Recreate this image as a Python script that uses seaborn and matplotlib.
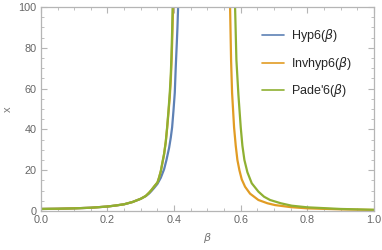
import matplotlib
matplotlib.use("Agg")
import matplotlib.pyplot as plt
import seaborn as sns
from matplotlib.ticker import MultipleLocator

# values, one list pair per branch
hyp_left_beta = [0.0, 0.05, 0.1, 0.15, 0.2, 0.225, 0.25, 0.275, 0.3, 0.315, 0.325, 0.332,
                 0.34, 0.35, 0.36, 0.37, 0.377, 0.385, 0.39, 0.394, 0.398, 0.402,
                 0.405, 0.408, 0.41, 0.412, 0.414]
hyp_left_x = [1.0, 1.1, 1.3, 1.6, 2.2, 2.7, 3.3, 4.4, 6.0, 7.3, 8.6, 9.8,
              11.3, 13.3, 16.3, 20.5, 25.0, 31.0, 36.0, 41.0, 49.0, 58.0,
              71.0, 82.0, 90.0, 100.0, 115.0]

inv_left_beta = [0.0, 0.05, 0.1, 0.15, 0.2, 0.225, 0.25, 0.275, 0.3, 0.315, 0.325, 0.332,
                 0.34, 0.35, 0.355, 0.36, 0.365, 0.37, 0.375, 0.379, 0.383, 0.387,
                 0.39, 0.392, 0.394, 0.396, 0.397, 0.399]
inv_left_x = [1.0, 1.1, 1.3, 1.6, 2.2, 2.7, 3.3, 4.4, 6.0, 7.4, 9.0, 10.3,
              12.0, 14.0, 16.5, 19.5, 23.5, 28.0, 34.0, 40.5, 48.0, 56.0,
              64.0, 72.0, 82.0, 94.0, 100.0, 120.0]
inv_right_beta = [0.566, 0.568, 0.571, 0.574, 0.58, 0.585, 0.59, 0.596, 0.603, 0.613,
                  0.628, 0.653, 0.68, 0.703, 0.75, 0.8, 0.9, 1.0]
inv_right_x = [115.0, 100.0, 74.0, 58.0, 41.0, 32.0, 25.0, 20.0, 15.5, 11.9,
               8.5, 5.4, 3.8, 2.9, 1.9, 1.3, 0.8, 0.5]

pade_left_beta = [0.0, 0.05, 0.1, 0.15, 0.2, 0.225, 0.25, 0.275, 0.3, 0.315, 0.325, 0.332,
                  0.34, 0.35, 0.355, 0.36, 0.365, 0.37, 0.375, 0.379, 0.383, 0.387,
                  0.39, 0.392, 0.394, 0.395, 0.396, 0.398]
pade_left_x = [1.0, 1.1, 1.3, 1.6, 2.2, 2.7, 3.3, 4.4, 6.0, 7.4, 9.0, 10.3,
               12.0, 14.0, 16.5, 19.5, 24.0, 28.0, 34.0, 41.0, 49.0, 58.0,
               67.0, 76.0, 88.0, 96.0, 104.0, 125.0]
pade_right_beta = [0.581, 0.583, 0.587, 0.593, 0.6, 0.605, 0.611, 0.62, 0.633, 0.653,
                   0.67, 0.688, 0.72, 0.753, 0.8, 0.9, 1.0]
pade_right_x = [115.0, 100.0, 74.0, 57.0, 41.0, 32.0, 25.0, 19.0, 13.6, 9.5,
                7.0, 5.4, 3.8, 2.6, 1.8, 1.0, 0.6]

labels = [r"Hyp6($\beta$)", r"Invhyp6($\beta$)", r"Pade'6($\beta$)"]
colors = ["#5E81B5", "#E19C24", "#8FB032"]

sns.set_style("ticks")
plt.rcParams['font.family'] = ['Liberation Sans', 'DejaVu Sans']
plt.rcParams['mathtext.fontset'] = 'dejavusans'

fig = plt.figure(figsize=(3.82, 2.5), dpi=100)
ax = fig.add_axes([0.107, 0.156, 0.872, 0.816])

series = [
    [(hyp_left_beta, hyp_left_x)],
    [(inv_left_beta, inv_left_x), (inv_right_beta, inv_right_x)],
    [(pade_left_beta, pade_left_x), (pade_right_beta, pade_right_x)],
]
for branches, label, color in zip(series, labels, colors):
    for i, (bx, by) in enumerate(branches):
        sns.lineplot(x=bx, y=by, ax=ax, color=color, linewidth=1.6,
                     label=label if i == 0 else None)

ax.set_xlim(0, 1)
ax.set_ylim(0, 100)
ax.xaxis.set_major_locator(MultipleLocator(0.2))
ax.xaxis.set_minor_locator(MultipleLocator(0.05))
ax.yaxis.set_major_locator(MultipleLocator(20))
ax.yaxis.set_minor_locator(MultipleLocator(5))
ax.xaxis.set_major_formatter(lambda v, p: f"{v:.1f}")
ax.yaxis.set_major_formatter(lambda v, p: f"{v:.0f}")

frame = "#b5b5b5"
for s in ax.spines.values():
    s.set_color(frame)
    s.set_linewidth(0.9)
ax.tick_params(which='both', direction='in', top=True, right=True, color=frame,
               labelcolor="#666666", labelsize=7.8, pad=3)
ax.tick_params(which='major', length=4, width=0.8)
ax.tick_params(which='minor', length=2.5, width=0.6)

ax.set_xlabel(r"$\beta$", color="#777777", fontsize=8, labelpad=4)
ax.set_ylabel("x", color="#777777", fontsize=8, labelpad=4)

leg = ax.legend(loc='upper left', bbox_to_anchor=(0.664, 0.90), frameon=False, fontsize=9,
                handlelength=1.76, handletextpad=0.56, labelspacing=0.84,
                borderpad=0, borderaxespad=0)
for h in leg.get_lines():
    h.set_linewidth(1.2)

fig.savefig("out.png", dpi=100)
